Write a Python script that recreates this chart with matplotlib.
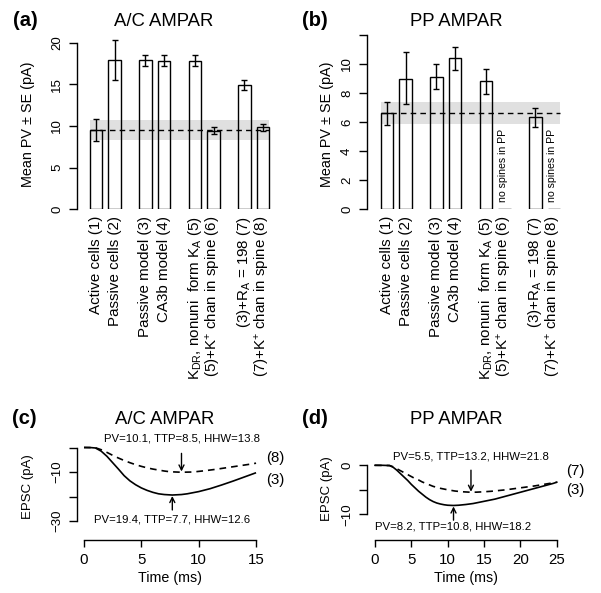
import matplotlib
matplotlib.use("Agg")
import matplotlib.pyplot as plt
import matplotlib.transforms as mtransforms
import numpy as np

plt.rcParams['font.family'] = ['Liberation Sans', 'DejaVu Sans']
plt.rcParams['mathtext.fontset'] = 'custom'
plt.rcParams['mathtext.rm'] = 'Liberation Sans'
plt.rcParams['mathtext.it'] = 'Liberation Sans:italic'
plt.rcParams['mathtext.bf'] = 'Liberation Sans:bold'

# ---------------- data ----------------
categories = [
    "Active cells (1)",
    "Passive cells (2)",
    "Passive model (3)",
    "CA3b model (4)",
    r"K$_{\mathrm{DR}}$, nonuni  form K$_{\mathrm{A}}$ (5)",
    r"(5)+K$^{+}$ chan in spine (6)",
    r"(3)+R$_{\mathrm{A}}$ = 198 (7)",
    r"(7)+K$^{+}$ chan in spine (8)",
]
bar_pos = [0, 1.5, 4, 5.5, 8, 9.5, 12, 13.5]

ac_mean = [9.5, 17.95, 17.9, 17.85, 17.8, 9.4, 14.95, 9.85]
ac_lo = [8.2, 15.5, 17.2, 17.2, 17.2, 9.05, 14.3, 9.4]
ac_hi = [10.8, 20.4, 18.6, 18.55, 18.5, 9.85, 15.6, 10.3]
ac_band = (8.3, 10.7)
ac_ref = 9.5

pp_mean = [6.6, 9.0, 9.13, 10.39, 8.83, 0.0, 6.32, 0.0]
pp_lo = [5.8, 7.24, 8.25, 9.59, 7.9, np.nan, 5.63, np.nan]
pp_hi = [7.4, 10.8, 10.0, 11.15, 9.66, np.nan, 6.99, np.nan]
pp_band = (5.84, 7.36)
pp_ref = 6.6
pp_nospine = [5, 7]

# EPSC traces (c): A/C AMPAR, model (3) solid, model (8) dashed
c_t3 = [0, 0.5, 1.0, 1.5, 2.0, 2.5, 3.0, 3.5, 4.0, 4.5, 5.0, 5.5, 6.0, 6.5, 7.0, 7.7,
        8.5, 9.0, 10.0, 11.0, 12.0, 13.0, 14.0, 15.0]
c_v3 = [0, 0, -0.2, -1.5, -3.6, -6.2, -8.8, -11.5, -13.6, -15.2, -16.5, -17.5, -18.3,
        -18.9, -19.2, -19.4, -19.2, -18.9, -18.0, -16.8, -15.3, -13.7, -12.0, -10.3]
c_t8 = [0, 1.0, 1.5, 2.0, 2.5, 3.0, 3.5, 4.0, 4.5, 5.0, 5.5, 6.0, 6.5, 7.0, 7.5, 8.5,
        9.5, 10.5, 11.5, 12.5, 13.5, 14.5, 15.0]
c_v8 = [0, -0.1, -0.9, -2.0, -3.2, -4.3, -5.3, -6.2, -7.0, -7.7, -8.3, -8.8, -9.2,
        -9.6, -9.9, -10.1, -10.0, -9.5, -8.9, -8.2, -7.5, -6.8, -6.4]

# EPSC traces (d): PP AMPAR, model (3) solid, model (7) dashed
d_t3 = [0, 1, 2, 2.5, 3, 3.5, 4, 4.5, 5, 5.5, 6, 6.5, 7, 7.5, 8, 8.5, 9, 9.5, 10,
        10.8, 11.5, 12.5, 13.5, 14.5, 15.5, 16.5, 17.5, 18.5, 19.5, 20.5, 21.5, 22.5,
        23.5, 24.5, 25]
d_v3 = [0, 0, -0.05, -0.4, -1.0, -1.7, -2.4, -3.1, -3.9, -4.6, -5.3, -5.9, -6.5, -7.0,
        -7.4, -7.7, -7.9, -8.05, -8.15, -8.2, -8.15, -8.0, -7.8, -7.5, -7.2, -6.9,
        -6.5, -6.1, -5.7, -5.3, -4.9, -4.5, -4.1, -3.7, -3.45]
d_t7 = [0, 2, 2.5, 3, 3.5, 4, 4.5, 5, 5.5, 6, 6.5, 7, 7.5, 8, 8.5, 9, 10, 11, 12, 13.2,
        14, 15, 16, 17, 18, 19, 20, 21, 22, 23, 24, 25]
d_v7 = [0, -0.05, -0.3, -0.7, -1.1, -1.5, -1.9, -2.3, -2.7, -3.0, -3.4, -3.7, -4.0,
        -4.3, -4.5, -4.7, -5.0, -5.25, -5.4, -5.5, -5.48, -5.4, -5.3, -5.15, -5.0,
        -4.8, -4.6, -4.4, -4.2, -3.95, -3.7, -3.45]

c_note8 = "PV=10.1, TTP=8.5, HHW=13.8"
c_note3 = "PV=19.4, TTP=7.7, HHW=12.6"
d_note7 = "PV=5.5, TTP=13.2, HHW=21.8"
d_note3 = "PV=8.2, TTP=10.8, HHW=18.2"

# ---------------- figure ----------------
W, H = 601, 593
fig = plt.figure(figsize=(W / 100, H / 100), dpi=100)


def px_axes(left, top, right, bottom):
    return fig.add_axes([left / W, 1 - bottom / H, (right - left) / W, (bottom - top) / H])


def ftext(x, y, s, **kw):
    fig.text(x / W, 1 - y / H, s, **kw)


LW = 1.0


def bar_panel(ax, means, lo, hi, band, ref, xlim, ylim, ytop, yticks, yticklabels):
    ax.set_xlim(*xlim)
    ax.set_ylim(*ylim)
    left_edge = bar_pos[0] - 0.5
    right_edge = bar_pos[-1] + 0.5
    ax.fill_between([left_edge, right_edge], [band[0]] * 2, [band[1]] * 2,
                    color='#e0e0e0', lw=0, zorder=1)
    ax.bar(bar_pos, means, width=1.0, facecolor='none', edgecolor='black',
           linewidth=LW, zorder=2)
    ax.plot([left_edge, right_edge], [ref, ref], color='black', lw=LW,
            dashes=(4, 3), zorder=3)
    m = np.array(means, dtype=float)
    l = np.array(lo, dtype=float)
    h = np.array(hi, dtype=float)
    ok = ~np.isnan(l)
    ax.errorbar(np.array(bar_pos)[ok], m[ok], yerr=[m[ok] - l[ok], h[ok] - m[ok]],
                fmt='none', ecolor='black', elinewidth=LW, capsize=2.4, capthick=LW,
                zorder=4)
    for s in ['top', 'right', 'bottom']:
        ax.spines[s].set_visible(False)
    ax.spines['left'].set_bounds(0, ytop)
    ax.spines['left'].set_linewidth(LW)
    ax.set_xticks([])
    ax.set_yticks(yticks)
    ax.set_yticklabels(yticklabels)
    ax.tick_params(axis='y', labelrotation=90, length=6, width=LW, pad=4,
                   labelsize=9.5)
    for lbl in ax.get_yticklabels():
        lbl.set_va('center')
    trans = mtransforms.offset_copy(ax.transData, fig=fig, x=0, y=-7, units='dots')
    for p, c in zip(bar_pos, categories):
        ax.text(p, 0, c, rotation=90, ha='center', va='top', fontsize=10.9,
                transform=trans)


# (a)
axA = px_axes(77, 35, 277, 209)
bar_panel(axA, ac_mean, ac_lo, ac_hi, ac_band, ac_ref,
          xlim=(-(96 - 77) / 12.37, (277 - 96) / 12.37),
          ylim=(0, (209 - 35) / 8.3), ytop=20,
          yticks=[0, 5, 10, 15, 20], yticklabels=['0', '5', '10', '15', '20'])

# (b)
axB = px_axes(367, 30, 567, 209)
bar_panel(axB, pp_mean, pp_lo, pp_hi, pp_band, pp_ref,
          xlim=(-(387 - 367) / 12.37, (567 - 387) / 12.37),
          ylim=(0, (209 - 30) / 14.5), ytop=12,
          yticks=[0, 2, 4, 6, 8, 10, 12], yticklabels=['0', '2', '4', '6', '8', '10', ''])
for i in pp_nospine:
    axB.text(bar_pos[i] - 0.15, 0.45, "no spines in PP", rotation=90, ha='center',
             va='bottom', fontsize=7.6)


def trace_panel(ax, xlim, ylim, xticks, ybounds, yticks, yticklabels):
    ax.set_xlim(*xlim)
    ax.set_ylim(*ylim)
    for s in ['top', 'right']:
        ax.spines[s].set_visible(False)
    ax.spines['left'].set_bounds(*ybounds)
    ax.spines['bottom'].set_bounds(xticks[0], xticks[-1])
    ax.spines['left'].set_linewidth(LW)
    ax.spines['bottom'].set_linewidth(LW)
    ax.set_xticks(xticks)
    ax.set_yticks(yticks)
    ax.set_yticklabels(yticklabels)
    ax.tick_params(axis='x', length=5, width=LW, pad=4, labelsize=10.8)
    ax.tick_params(axis='y', labelrotation=90, length=6, width=LW, pad=4,
                   labelsize=9.5)
    for lbl in ax.get_yticklabels():
        lbl.set_va('center')


def arrow(ax, x, y0, y1):
    ax.annotate('', xy=(x, y1), xytext=(x, y0),
                arrowprops=dict(arrowstyle='->', lw=LW, color='black',
                                shrinkA=0, shrinkB=0, mutation_scale=9))


# (c)
axC = px_axes(77, 430, 260, 540)
trace_panel(axC, xlim=(-(84 - 77) / 11.47, (260 - 84) / 11.47),
            ylim=(-(540 - 447.5) / 2.45, (447.5 - 430) / 2.45),
            xticks=[0, 5, 10, 15], ybounds=(-30, 0),
            yticks=[0, -10, -20, -30], yticklabels=['', '\u221210', '', '\u221230'])
axC.plot(c_t3, c_v3, color='black', lw=1.2, solid_capstyle='butt')
axC.plot(c_t8, c_v8, color='black', lw=1.2, dashes=(4, 3))
arrow(axC, 8.5, -2.4, -9.8)
arrow(axC, 7.7, -25.5, -19.8)
axC.text(8.55, 3.6, c_note8, ha='center', va='center', fontsize=8.2)
axC.text(7.7, -29.3, c_note3, ha='center', va='center', fontsize=8.2)
axC.text(16.65, -4.2, "(8)", ha='center', va='center', fontsize=10.8, clip_on=False)
axC.text(16.65, -13.2, "(3)", ha='center', va='center', fontsize=10.8, clip_on=False)

# (d)
axD = px_axes(367, 430, 562, 540)
trace_panel(axD, xlim=(-(375 - 367) / 7.27, (562 - 375) / 7.27),
            ylim=(-(540 - 465.3) / 4.9, (465.3 - 430) / 4.9),
            xticks=[0, 5, 10, 15, 20, 25], ybounds=(-10, 0),
            yticks=[0, -5, -10], yticklabels=['0', '', '\u221210'])
axD.plot(d_t3, d_v3, color='black', lw=1.2)
axD.plot(d_t7, d_v7, color='black', lw=1.2, dashes=(4, 3))
arrow(axD, 13.2, -1.0, -5.4)
arrow(axD, 10.8, -11.2, -8.4)
axD.text(13.2, 1.7, d_note7, ha='center', va='center', fontsize=8.2)
axD.text(10.7, -12.4, d_note3, ha='center', va='center', fontsize=8.2)
axD.text(27.5, -1.2, "(7)", ha='center', va='center', fontsize=10.8, clip_on=False)
axD.text(27.5, -5.1, "(3)", ha='center', va='center', fontsize=10.8, clip_on=False)

# panel labels, titles, axis labels
ftext(25, 21, "(a)", ha='center', va='center', fontsize=14.5, fontweight='bold')
ftext(164, 21, "A/C AMPAR", ha='center', va='center', fontsize=13.3)
ftext(315, 21, "(b)", ha='center', va='center', fontsize=14.5, fontweight='bold')
ftext(456, 21, "PP AMPAR", ha='center', va='center', fontsize=13.3)
ftext(28, 124, "Mean PV \u00b1 SE (pA)", ha='center', va='center', rotation=90,
      fontsize=10.4)
ftext(327, 124, "Mean PV \u00b1 SE (pA)", ha='center', va='center', rotation=90,
      fontsize=10.4)

ftext(24, 418, "(c)", ha='center', va='center', fontsize=14.5, fontweight='bold')
ftext(165, 419, "A/C AMPAR", ha='center', va='center', fontsize=13.3)
ftext(315, 419, "(d)", ha='center', va='center', fontsize=14.5, fontweight='bold')
ftext(456, 420, "PP AMPAR", ha='center', va='center', fontsize=13.3)
ftext(28, 487, "EPSC (pA)", ha='center', va='center', rotation=90, fontsize=9.5)
ftext(327, 489, "EPSC (pA)", ha='center', va='center', rotation=90, fontsize=9.5)
ftext(170, 578, "Time (ms)", ha='center', va='center', fontsize=10.3)
ftext(466, 578, "Time (ms)", ha='center', va='center', fontsize=10.3)

fig.savefig("out.png", dpi=100)
